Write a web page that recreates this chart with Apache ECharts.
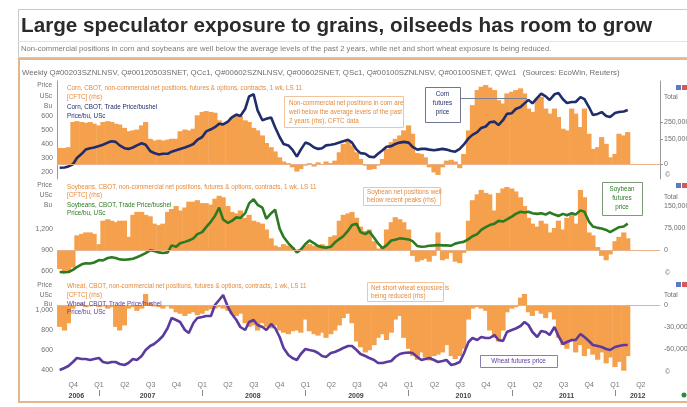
<!DOCTYPE html>
<html><head><meta charset="utf-8">
<script src="https://cdn.jsdelivr.net/npm/echarts@6/dist/echarts.min.js"></script>
<style>html,body{margin:0;padding:0;background:#fff}#c{width:687px;height:407px}</style>
</head><body><div id="c"></div>
<script>
const dates = [
"2006-08-15","2006-09-01","2006-09-15","2006-10-01","2006-10-15","2006-11-01","2006-11-15","2006-12-01","2006-12-15",
"2007-01-01","2007-01-15","2007-02-01","2007-02-15","2007-03-01","2007-03-15","2007-04-01","2007-04-15","2007-05-01","2007-05-15","2007-06-01","2007-06-15","2007-07-01","2007-07-15","2007-08-01","2007-08-15","2007-09-01","2007-09-15","2007-10-01","2007-10-15","2007-11-01","2007-11-15","2007-12-01","2007-12-15",
"2008-01-01","2008-01-15","2008-02-01","2008-02-15","2008-03-01","2008-03-15","2008-04-01","2008-04-15","2008-05-01","2008-05-15","2008-06-01","2008-06-15","2008-07-01","2008-07-15","2008-08-01","2008-08-15","2008-09-01","2008-09-15","2008-10-01","2008-10-15","2008-11-01","2008-11-15","2008-12-01","2008-12-15",
"2009-01-01","2009-01-15","2009-02-01","2009-02-15","2009-03-01","2009-03-15","2009-04-01","2009-04-15","2009-05-01","2009-05-15","2009-06-01","2009-06-15","2009-07-01","2009-07-15","2009-08-01","2009-08-15","2009-09-01","2009-09-15","2009-10-01","2009-10-15","2009-11-01","2009-11-15","2009-12-01","2009-12-15",
"2010-01-01","2010-01-15","2010-02-01","2010-02-15","2010-03-01","2010-03-15","2010-04-01","2010-04-15","2010-05-01","2010-05-15","2010-06-01","2010-06-15","2010-07-01","2010-07-15","2010-08-01","2010-08-15","2010-09-01","2010-09-15","2010-10-01","2010-10-15","2010-11-01","2010-11-15","2010-12-01","2010-12-15",
"2011-01-01","2011-01-15","2011-02-01","2011-02-15","2011-03-01","2011-03-15","2011-04-01","2011-04-15","2011-05-01","2011-05-15","2011-06-01","2011-06-15","2011-07-01","2011-07-15","2011-08-01","2011-08-15","2011-09-01","2011-09-15","2011-10-01","2011-10-15","2011-11-01","2011-11-15","2011-12-01","2011-12-15",
"2012-01-01","2012-01-15","2012-02-01","2012-02-15"];

// Corn, CBOT front month, USc/bu
const cornPrice = [230,232,240,255,300,330,360,370,375,
385,395,410,420,415,390,370,365,375,390,405,395,350,335,325,330,330,345,355,365,375,385,400,430,
450,490,505,520,545,540,560,590,610,600,650,740,755,640,570,580,590,520,450,400,390,360,310,360,
410,400,375,365,370,390,395,400,410,420,430,410,360,335,330,310,305,330,355,380,385,400,410,415,
410,380,360,365,365,360,355,360,365,360,350,345,365,395,440,465,485,515,525,555,560,535,570,615,
620,650,664,690,715,690,730,760,740,714,755,764,720,693,700,700,735,720,664,607,615,628,600,593,
621,628,632,643];
// Corn non-commercial net positions, thousand contracts
const cornNetK = [95,95,100,250,255,250,245,250,240,
230,250,255,250,240,235,215,195,200,205,230,250,150,140,145,140,145,150,150,195,205,200,210,290,
310,315,310,305,260,245,250,280,295,285,260,250,215,200,170,125,100,75,40,15,5,-20,-45,-30,
-10,5,-15,10,-5,15,5,20,70,120,140,110,70,30,-10,-35,-30,-10,30,90,130,150,170,200,
230,180,65,60,40,-20,-50,-65,-20,20,25,15,-25,60,200,350,440,460,470,455,440,380,360,420,
430,440,450,420,330,310,390,400,330,300,330,280,210,200,330,300,220,330,180,90,100,160,120,40,
60,180,170,190];
// Soybeans, CBOT front month, USc/bu
const soyPrice = [580,575,580,610,650,690,705,700,715,
750,745,780,790,780,760,755,760,770,790,820,850,890,880,860,850,860,960,940,990,1010,1030,1060,1120,
1150,1220,1300,1380,1500,1330,1280,1310,1360,1350,1420,1560,1620,1540,1500,1340,1420,1470,1200,1080,990,930,860,900,
980,1030,990,950,935,925,940,1000,1050,1090,1170,1250,1270,1150,1120,1160,1070,990,920,960,1030,1040,1060,1055,
1045,1020,950,940,945,955,960,965,960,960,955,985,1000,1010,1050,1090,1120,1180,1220,1250,1270,1310,1300,1330,
1370,1410,1440,1430,1440,1420,1410,1420,1400,1430,1400,1380,1410,1390,1420,1400,1460,1440,1300,1230,1210,1200,1180,1150,
1190,1220,1230,1270];
// Soybean non-commercial net positions, thousand contracts
const soyNetK = [-65,-75,-78,-60,50,55,60,60,55,
20,100,105,100,95,100,100,45,120,130,130,120,115,90,85,90,130,140,150,135,145,165,165,170,
160,160,155,175,185,180,150,130,125,135,110,120,100,95,90,70,40,15,10,20,15,10,2,3,
15,20,15,12,20,15,45,50,100,120,125,130,110,80,65,70,30,5,10,70,95,112,105,95,
70,-20,-40,-35,-30,-40,-20,60,-35,-30,-10,-40,-45,-10,100,170,190,205,195,190,135,195,210,215,
210,200,180,150,110,90,80,100,90,60,75,100,70,110,125,90,205,180,60,50,10,-20,-35,-15,
30,45,60,40];
// Wheat, CBOT front month, USc/bu
const wheatPrice = [400,420,440,480,520,510,510,500,510,
520,480,470,480,480,460,450,470,510,500,540,600,640,660,700,740,820,920,900,880,800,770,870,920,
930,940,940,1050,1100,1150,1030,960,900,830,800,880,900,850,830,800,860,820,730,620,550,520,500,560,
610,600,590,570,540,530,570,580,600,620,640,640,600,560,540,520,500,470,470,480,490,530,560,570,
575,570,530,500,510,520,500,480,490,500,450,460,480,560,680,720,700,730,720,720,750,700,690,780,
800,815,840,880,850,780,730,790,780,750,830,740,660,680,700,700,760,730,690,650,640,630,610,600,
630,640,650,650];
// Wheat non-commercial net positions, thousand contracts
const wheatNetK = [-30,-35,-25,-5,0,2,-3,-2,0,
-3,-2,-5,-3,-30,-35,-28,-5,-3,-8,-5,15,3,-2,-3,-5,-2,-5,-10,-12,-15,-12,-10,-14,
-12,-8,-6,-5,-3,-5,-8,-12,-15,-12,-25,-30,-28,-35,-25,-30,-32,-28,-35,-38,-40,-36,-35,-38,
-20,-36,-40,-42,-38,-45,-40,-35,-28,-18,-12,-25,-50,-58,-65,-62,-55,-45,-40,-48,-38,-20,-15,-45,
-60,-70,-75,-65,-72,-76,-70,-68,-65,-55,-70,-74,-70,-60,-20,-5,-3,-5,-8,-35,-45,-50,-35,-10,
-5,-3,10,15,-10,-15,-8,-12,-18,-10,-20,-45,-55,-60,-50,-65,-55,-70,-60,-68,-75,-65,-80,-72,
-85,-78,-90,-70];

const quarterTicks = [2006.75,2007,2007.25,2007.5,2007.75,2008,2008.25,2008.5,2008.75,2009,2009.25,2009.5,2009.75,2010,2010.25,2010.5,2010.75,2011,2011.25,2011.5,2011.75,2012,2012.25];
const quarterLabels = ["Q4","Q1","Q2","Q3","Q4","Q1","Q2","Q3","Q4","Q1","Q2","Q3","Q4","Q1","Q2","Q3","Q4","Q1","Q2","Q3","Q4","Q1","Q2"];
const yearTickPos = [2006.78,2007.47,2008.49,2009.49,2010.53,2011.53,2012.22];
const yearLabels = ["2006","2007","2008","2009","2010","2011","2012"];
const yearBoundaries = [2007,2008,2009,2010,2011,2012];

const cornPriceTicks = [200,300,400,500,600];
const cornNetTicks = [0,150,250];
const soyPriceTicks = [600,900,1200];
const soyNetTicks = [0,75,150];
const wheatPriceTicks = [400,600,800,1000];
const wheatNetTicks = [-60,-30,0];

function toYear(s){
  const y=+s.slice(0,4), m=+s.slice(5,7), d=+s.slice(8,10);
  return y + (Date.UTC(y,m-1,d)-Date.UTC(y,0,1))/(365.25*864e5);
}
const T = dates.map(toYear);
const pairs = a => a.map((v,i)=>[T[i],v]);

const FONT = 'Liberation Sans, Arial, sans-serif';
const XMIN = 2006.593, XMAX = 2012.436;
const ORANGE = '#f5a04c';
const fmtK = v => v===0 ? '0' : (v*1000).toLocaleString('en-US');

const grids = [
  {left:57, right:27, top:81, height:98},
  {left:57, right:27, top:183, height:95},
  {left:57, right:27, top:283, height:95}
].map(g=>Object.assign(g,{outerBoundsMode:'none'}));

const hiddenX = i => ({type:'value', gridIndex:i, min:XMIN, max:XMAX, axisLine:{show:false}, axisTick:{show:false}, axisLabel:{show:false}, splitLine:{show:false}});

const leftAxis = (i,min,max,ticks,showLine) => ({type:'value', gridIndex:i, position:'left', min, max,
  axisLine:{show:!!showLine, lineStyle:{color:'#9a9a9a', width:1}}, axisTick:{show:false}, splitLine:{show:false},
  axisLabel:{customValues:ticks, color:'#6d6d6d', fontSize:7, fontFamily:FONT, margin:4}});
const rightAxis = (i,min,max,ticks,showLine) => ({type:'value', gridIndex:i, position:'right', min, max,
  axisLine:{show:!!showLine, lineStyle:{color:'#9a9a9a', width:1}}, axisTick:{show:!!showLine, customValues:ticks, length:3, inside:false, lineStyle:{color:'#9a9a9a'}}, splitLine:{show:false},
  axisLabel:{customValues:ticks, formatter:fmtK, color:'#6d6d6d', fontSize:7, fontFamily:FONT, margin:4}});

const zeroLine = {silent:true, symbol:'none', label:{show:false}, lineStyle:{color:'#e8b08c', type:'solid', width:1}, data:[{yAxis:0}], animation:false};
const bars = (xi, yi, data) => ({type:'bar', xAxisIndex:xi, yAxisIndex:yi, data:pairs(data), barWidth:5.2, itemStyle:{color:ORANGE}, markLine:zeroLine, z:2});
const line = (xi, yi, data, color) => ({type:'line', xAxisIndex:xi, yAxisIndex:yi, data:pairs(data), showSymbol:false, symbol:'none', lineStyle:{color, width:2.6}, z:3});

function txt(x,y,text,color,size,extra){
  return {type:'text', x, y, z:12, silent:true, style:Object.assign({text, fill:color, font:(size||6.5)+'px '+FONT, textAlign:'left', textVerticalAlign:'middle', align:'left', verticalAlign:'middle'}, extra||{})};
}
function box(x,y,w,h,stroke){
  return {type:'rect', silent:true, shape:{x:x+0.5,y:y+0.5,width:w,height:h}, style:{fill:'rgba(255,255,255,0.85)', stroke, lineWidth:1}, z:10};
}
const NAVY='#1f2d6b', GREEN='#2c7a22', PURPLE='#5b3c9e', ORTXT='#e58a3c', GRAY='#6d6d6d';
const R = {textAlign:'right',align:'right'}, C = {textAlign:'center',align:'center'};

const graphics = [
  {type:'rect', silent:true, shape:{x:18.5,y:9.5,width:700,height:48}, style:{fill:'none', stroke:'#c9c9c9', lineWidth:1}},
  {type:'line', silent:true, shape:{x1:18,y1:41.5,x2:687,y2:41.5}, style:{stroke:'#e3e3e3', lineWidth:1}},
  txt(21,26,'Large speculator exposure to grains, oilseeds has room to grow','#2b2b2b',20.7,{font:'bold 20.7px '+FONT}),
  txt(21,49,'Non-commercial positions in corn and soybeans are well below the average levels of the past 2 years, while net and short wheat exposure is being reduced.','#7a7a7a',7.7),
  {type:'rect', silent:true, shape:{x:19,y:59,width:700,height:343}, style:{fill:'none', stroke:'#e4b68e', lineWidth:2}},
  txt(22,73,'Weekly Q#00203SZNLNSV, Q#00120503SNET, QCc1, Q#00602SZNLNSV, Q#00602SNET, QSc1, Q#00100SZNLNSV, Q#00100SNET, QWc1   (Sources: EcoWin, Reuters)',GRAY,7.8),
  // left axis headers
  txt(52,85,'Price',GRAY,6.5,R), txt(52,96,'USc',GRAY,6.5,R), txt(52,106,'Bu',GRAY,6.5,R),
  txt(52,185,'Price',GRAY,6.5,R), txt(52,195,'USc',GRAY,6.5,R), txt(52,205,'Bu',GRAY,6.5,R),
  txt(52,285,'Price',GRAY,6.5,R), txt(52,295,'USc',GRAY,6.5,R), txt(52,304,'Bu',GRAY,6.5,R),
  // right axis headers
  txt(664,97,'Total',GRAY,6.5), txt(664,197,'Total',GRAY,6.5), txt(664,295,'Total',GRAY,6.5),
  {type:'rect', silent:true, shape:{x:676,y:85,width:5,height:5}, style:{fill:'#5b79c4'}},
  {type:'rect', silent:true, shape:{x:682,y:85,width:5,height:5}, style:{fill:'#d45a5a'}},
  {type:'rect', silent:true, shape:{x:676,y:183,width:5,height:5}, style:{fill:'#5b79c4'}},
  {type:'rect', silent:true, shape:{x:682,y:183,width:5,height:5}, style:{fill:'#d45a5a'}},
  {type:'rect', silent:true, shape:{x:676,y:282,width:5,height:5}, style:{fill:'#5b79c4'}},
  {type:'rect', silent:true, shape:{x:682,y:282,width:5,height:5}, style:{fill:'#d45a5a'}},
  {type:'circle', silent:true, shape:{cx:684,cy:395,r:2.5}, style:{fill:'#2c8a3c'}},
  txt(665,175,'©',GRAY,7), txt(665,273,'©',GRAY,7), txt(665,372,'©',GRAY,7),
  // corn legend
  txt(67,88,'Corn, CBOT, non-commercial net positions, futures & options, contracts, 1 wk, LS 11',ORTXT,6.3),
  txt(67,97,'[CFTC] (rhs)',ORTXT,6.3),
  txt(67,107,'Corn, CBOT, Trade Price/bushel',NAVY,6.3),
  txt(67,116,'Price/bu, USc',NAVY,6.3),
  box(284,96,119,31,'#f2c49c'),
  txt(289,103,'Non-commercial net positions in corn are',ORTXT,6.3),
  txt(289,112,'well below the average levels of the past',ORTXT,6.3),
  txt(289,121,'2 years (rhs), CFTC data',ORTXT,6.3),
  {type:'line', silent:true, shape:{x1:460,y1:98.5,x2:527,y2:98.5}, style:{stroke:'#7a7f96', lineWidth:1}, z:9},
  box(425,87,35,35,'#6e7694'),
  txt(442.5,94,'Corn',NAVY,6.3,C),
  txt(442.5,103,'futures',NAVY,6.3,C),
  txt(442.5,112,'price',NAVY,6.3,C),
  // soy legend
  txt(67,187,'Soybeans, CBOT, non-commercial net positions, futures & options, contracts, 1 wk, LS 11',ORTXT,6.3),
  txt(67,195,'[CFTC] (rhs)',ORTXT,6.3),
  txt(67,205,'Soybeans, CBOT, Trade Price/bushel',GREEN,6.3),
  txt(67,213,'Price/bu, USc',GREEN,6.3),
  box(363,187,77,18,'#f2c49c'),
  txt(367,192,'Soybean net positions well',ORTXT,6.3),
  txt(367,200,'below recent peaks (rhs)',ORTXT,6.3),
  box(602,182,40,33,'#7c9a78'),
  txt(622,189,'Soybean',GREEN,6.3,C),
  txt(622,198,'futures',GREEN,6.3,C),
  txt(622,207,'price',GREEN,6.3,C),
  // wheat legend
  txt(67,286,'Wheat, CBOT, non-commercial net positions, futures & options, contracts, 1 wk, LS 11',ORTXT,6.3),
  txt(67,295,'[CFTC] (rhs)',ORTXT,6.3),
  txt(67,304,'Wheat, CBOT, Trade Price/bushel',PURPLE,6.3),
  txt(67,312,'Price/bu, USc',PURPLE,6.3),
  box(367,282,76,19,'#f2c49c'),
  txt(371,288,'Net short wheat exposure is',ORTXT,6.3),
  txt(371,296,'being reduced (rhs)',ORTXT,6.3),
  box(480,355,77,12,'#8a7cb4'),
  txt(518.5,361.5,'Wheat futures price',PURPLE,6.3,C)
];

const option = {
  animation:false,
  backgroundColor:'#ffffff',
  grid: grids,
  xAxis: [hiddenX(0), hiddenX(1),
    {type:'value', gridIndex:2, min:XMIN, max:XMAX, axisLine:{show:false}, axisTick:{show:false}, splitLine:{show:false},
     axisLabel:{customValues:quarterTicks, formatter:v=>{const i=quarterTicks.findIndex(q=>Math.abs(q-v)<1e-6);return i<0?'':quarterLabels[i];}, color:'#777', fontSize:7, fontFamily:FONT, margin:4}},
    {type:'value', gridIndex:2, position:'bottom', offset:12, min:XMIN, max:XMAX, axisLine:{show:false}, splitLine:{show:false},
     axisTick:{show:true, customValues:yearBoundaries, length:6, lineStyle:{color:'#888'}},
     axisLabel:{customValues:yearTickPos, formatter:v=>{const i=yearTickPos.findIndex(q=>Math.abs(q-v)<1e-6);return i<0?'':yearLabels[i];}, color:'#444', fontWeight:'bold', fontSize:7, fontFamily:FONT, margin:3}}
  ],
  yAxis: [
    leftAxis(0,150,850,cornPriceTicks,true), rightAxis(0,-89.3,494,cornNetTicks,true),
    leftAxis(1,494,1851,soyPriceTicks,false), rightAxis(1,-95.6,228.7,soyNetTicks,false),
    leftAxis(2,320,1270,wheatPriceTicks,false), rightAxis(2,-100,30.1,wheatNetTicks,false)
  ],
  series: [
    bars(0,1,cornNetK), line(0,0,cornPrice,NAVY),
    bars(1,3,soyNetK), line(1,2,soyPrice,GREEN),
    bars(2,5,wheatNetK), line(2,4,wheatPrice,PURPLE)
  ],
  graphic: graphics
};
const chart = echarts.init(document.getElementById('c'), null, {renderer:'canvas'});
chart.setOption(option);
</script></body></html>
